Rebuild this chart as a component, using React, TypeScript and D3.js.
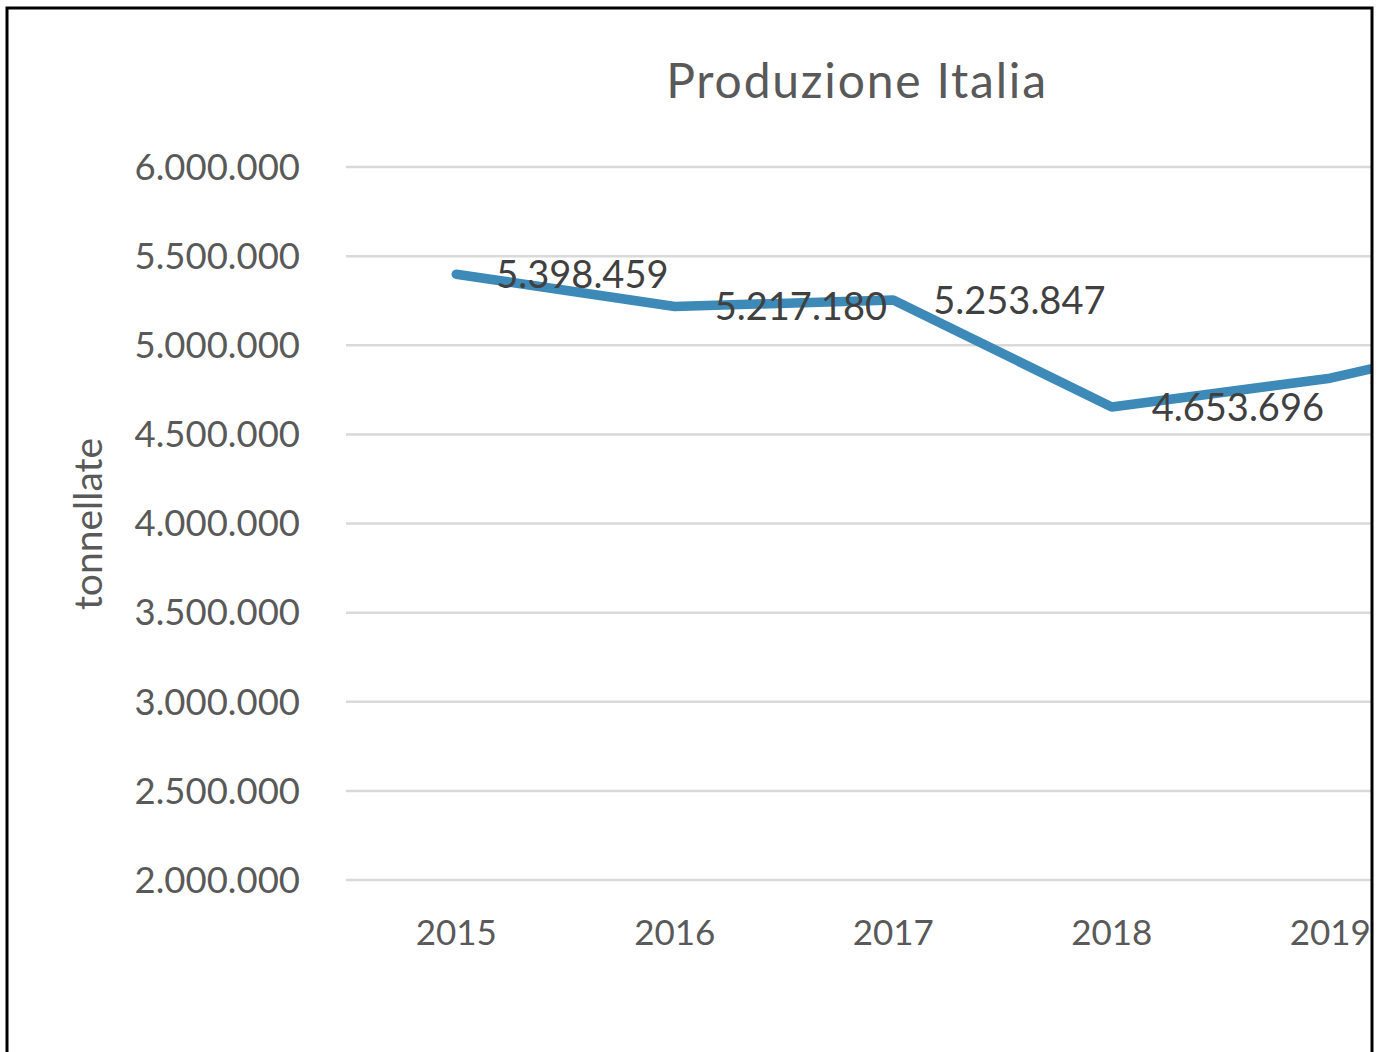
import React from "react";
import * as d3 from "d3";

const years = ["2015", "2016", "2017", "2018", "2019", "2020"];
const production = [5398459, 5217180, 5253847, 4653696, 4815000, 5100000];
const yTicks = [2000000, 2500000, 3000000, 3500000, 4000000, 4500000, 5000000, 5500000, 6000000];
const labelled = [true, true, true, true, true, false];

const W = 1381;
const H = 1052;
const font = "Lato, 'Open Sans', sans-serif";
const grey = "#595959";

const fmt = (v: number) => d3.format(",")(v).replace(/,/g, ".");

const App: React.FC = () => {
  const x = d3
    .scaleBand<string>()
    .domain(years)
    .range([347, 347 + 218.5 * years.length])
    .padding(0);
  const y = d3.scaleLinear().domain([2000000, 6000000]).range([880, 167]);
  const cx = (yr: string) => (x(yr) || 0) + x.bandwidth() / 2;

  const data = years.map((yr, i) => ({ yr, v: production[i] }));
  const line = d3
    .line<{ yr: string; v: number }>()
    .x((d) => cx(d.yr))
    .y((d) => y(d.v));

  return (
    <div style={{ position: "absolute", left: 0, top: 0 }}>
      <svg width={W} height={H} style={{ display: "block", background: "#fff" }}>
        <defs>
          <clipPath id="plot">
            <rect x={0} y={0} width={1371} height={H} />
          </clipPath>
        </defs>
        <rect x={0} y={0} width={W} height={H} fill="#fff" />

        <text x={857} y={98} textAnchor="middle" fontFamily={font} fontSize={48} fill={grey} letterSpacing={1.8}>
          Produzione Italia
        </text>

        <text
          transform="translate(102,524) rotate(-90)"
          textAnchor="middle"
          fontFamily={font}
          fontSize={39}
          fill={grey}
        >
          tonnellate
        </text>

        <g clipPath="url(#plot)">
          {yTicks.map((t) => (
            <line key={t} x1={346} x2={W} y1={y(t)} y2={y(t)} stroke="#d9d9d9" strokeWidth={2.5} />
          ))}
          <path
            d={line(data) || ""}
            fill="none"
            stroke="#3d89b8"
            strokeWidth={9.5}
            strokeLinejoin="round"
            strokeLinecap="round"
          />
          {data.map((d, i) =>
            labelled[i] ? (
              <text
                key={d.yr}
                x={cx(d.yr) + 40}
                y={y(d.v)}
                dy="0.36em"
                fontFamily={font}
                fontSize={38}
                fill="#404040"
              >
                {fmt(d.v)}
              </text>
            ) : null
          )}
          {years.map((yr) => (
            <text key={yr} x={cx(yr)} y={945} textAnchor="middle" fontFamily={font} fontSize={35} fill={grey}>
              {yr}
            </text>
          ))}
        </g>

        {yTicks.map((t) => (
          <text key={t} x={300} y={y(t)} dy="0.35em" textAnchor="end" fontFamily={font} fontSize={36.5} fill={grey}>
            {fmt(t)}
          </text>
        ))}

        <path d={`M7,${H} V8 H1372 V${H}`} fill="none" stroke="#000" strokeWidth={3} />
      </svg>
    </div>
  );
};

export default App;
